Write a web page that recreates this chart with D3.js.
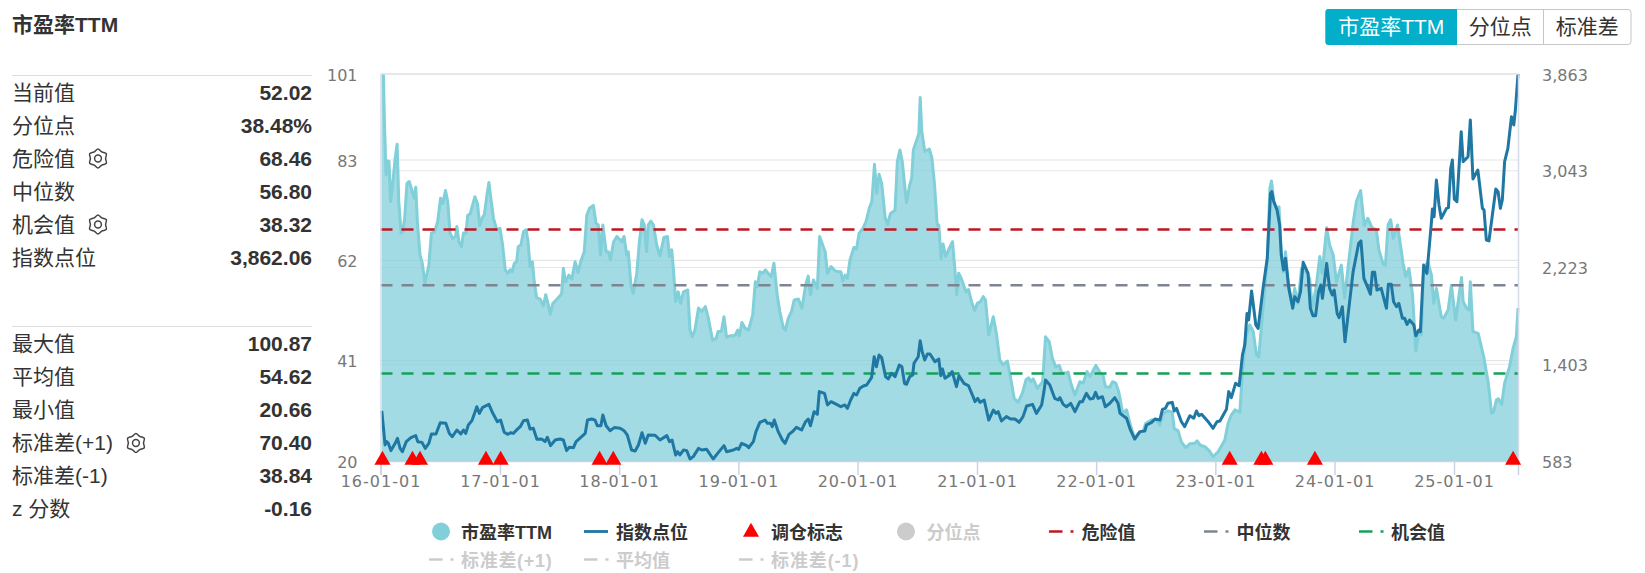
<!DOCTYPE html>
<html>
<head>
<meta charset="utf-8">
<title>市盈率TTM</title>
<script src="https://cdn.jsdelivr.net/npm/d3@7"></script>
<style>
html, body { margin: 0; padding: 0; background: #fff; }
svg { display: block; font-family: "Liberation Sans", "Noto Sans CJK SC", sans-serif; }
.axis text { font-family: "DejaVu Sans", sans-serif; font-size: 16px; fill: #777; }
.axis.x-axis text { letter-spacing: 1px; }
.axis.left-axis text { font-size: 16px; }
</style>
</head>
<body>
<svg id="chart" width="1645" height="573"></svg>
<script>
// [days since 2016-01-01, value]
const peSeries = [[4,100.87],[9,100.8],[12,91],[17,79.9],[21,82.8],[26,82.7],[31,74.3],[38,78.5],[45,83.4],[51,86.3],[56,74.3],[63,67.7],[68,68],[74,70.8],[81,78.1],[88,78.5],[96,76.7],[103,75],[108,77.3],[113,70.1],[121,63.1],[128,61.4],[136,57.2],[148,61],[156,67.7],[166,68],[175,70.1],[184,75],[191,73.9],[199,76.6],[206,74.3],[213,67.7],[221,66.6],[230,67],[234,69.1],[240,65.9],[248,64.9],[254,67.7],[262,67.7],[267,71.4],[275,71.8],[289,75.3],[297,73.9],[304,69.3],[313,71.1],[318,71.5],[326,75.7],[332,78.3],[338,75],[346,70.8],[356,68.4],[366,68.7],[374,65.2],[382,60],[390,59.3],[397,60],[403,59.6],[410,61.4],[417,61.7],[422,64.9],[430,65.2],[438,68],[446,68.4],[452,65.9],[458,60.7],[465,61.7],[471,57.5],[478,54.2],[489,53.9],[499,52.5],[506,54.8],[514,52.7],[520,50.7],[528,53],[538,53.7],[550,54.6],[555,55.1],[560,60.3],[567,57.5],[577,58.9],[586,58.1],[596,61.7],[605,59.5],[613,61.7],[624,63.8],[632,71.5],[640,72.9],[652,73.5],[660,69.8],[667,69.4],[674,63.1],[681,69.4],[691,63.8],[698,63.8],[704,62.1],[714,65.9],[724,67],[739,65.9],[746,67],[754,63.1],[759,63.8],[767,56.8],[774,55.1],[785,59.3],[793,65.9],[801,70.5],[808,69.4],[815,63.8],[820,69.4],[828,70.2],[836,69.4],[846,65.2],[856,62.9],[868,66.8],[879,67],[885,62.8],[892,64.2],[897,60.3],[904,53.4],[912,55.4],[919,53],[928,55.4],[941,55.8],[948,47.4],[955,46],[963,47.4],[974,52],[984,51.3],[995,52.3],[1004,49.9],[1017,45.3],[1028,45.7],[1034,47.1],[1044,47.1],[1052,50.2],[1060,45.9],[1071,46.2],[1081,46.2],[1087,46.4],[1094,47.4],[1099,46.2],[1107,49],[1117,47.8],[1127,47.4],[1140,50.6],[1148,57.5],[1154,56.5],[1162,59.6],[1170,59.3],[1179,60],[1187,59.3],[1197,58.6],[1205,61.4],[1215,54.8],[1223,51.3],[1234,47.8],[1240,47.4],[1249,49.9],[1259,51.3],[1267,53.7],[1280,53.9],[1291,52],[1302,56.8],[1310,58.7],[1317,54.8],[1326,57.9],[1338,56.1],[1345,67],[1356,64.9],[1362,63.8],[1369,59.3],[1380,60.7],[1392,59.8],[1404,59.6],[1410,59.6],[1416,57.7],[1423,58.9],[1430,58.2],[1438,62.1],[1450,64.7],[1458,64.4],[1466,67.7],[1477,68.6],[1487,70.1],[1497,72.9],[1505,74.3],[1513,82.1],[1520,76],[1527,80],[1535,78.1],[1546,70.8],[1553,69.5],[1562,71.8],[1576,72.5],[1583,82.7],[1591,85.1],[1598,82.7],[1611,74.1],[1621,77.8],[1627,79.2],[1632,85.1],[1644,87.5],[1649,88.6],[1653,96.1],[1658,88.9],[1667,84.8],[1681,85.3],[1689,83.4],[1697,77.8],[1705,69.4],[1710,69.4],[1717,62.4],[1723,65.4],[1731,62.8],[1742,64.5],[1752,65.9],[1759,60.3],[1765,54.8],[1771,59.3],[1779,58.2],[1793,55.4],[1801,55.9],[1810,53.4],[1820,51.5],[1828,53],[1838,53.4],[1846,54.4],[1853,53.7],[1863,46.4],[1877,50.2],[1887,46.4],[1897,41.1],[1907,40.1],[1920,40.9],[1931,37],[1941,33.1],[1953,32.3],[1966,34.2],[1977,37],[1985,37.4],[1992,36.6],[1999,37.2],[2012,35.2],[2028,36.6],[2037,46],[2048,45],[2058,41.5],[2068,39.7],[2079,40],[2087,38.4],[2101,38.4],[2106,38.6],[2116,35.9],[2127,33.8],[2142,36.6],[2152,36.3],[2164,38.7],[2173,37.7],[2191,40],[2205,38.4],[2213,38],[2220,35.6],[2234,35.4],[2242,36.6],[2252,36.3],[2261,34.5],[2265,33.1],[2273,30],[2285,30.7],[2297,27.5],[2310,24.7],[2321,25.8],[2336,26.3],[2344,27.9],[2361,28.6],[2377,28.6],[2387,27.5],[2397,30],[2412,30.5],[2425,30.2],[2431,26.8],[2443,26.3],[2453,24],[2466,22.8],[2479,23.6],[2494,23.7],[2501,24.2],[2511,23.3],[2525,23],[2540,22],[2550,20.9],[2566,22],[2586,24.4],[2596,27.9],[2606,29.6],[2617,30.7],[2632,30.2],[2640,38.7],[2650,45.7],[2662,48.5],[2673,47.1],[2683,42.2],[2690,41.8],[2703,52],[2716,61.7],[2724,77.1],[2729,78.6],[2736,74.3],[2744,72.9],[2752,73.2],[2759,63.1],[2765,59.6],[2772,63.8],[2780,57.5],[2793,52.7],[2800,56.1],[2810,53],[2821,60.3],[2831,60],[2846,58.2],[2854,52],[2865,56.1],[2877,62.8],[2884,59.3],[2898,68.8],[2907,65.2],[2918,63.1],[2928,57.5],[2943,61],[2953,54.1],[2969,63.8],[2979,69.8],[2989,74.3],[3002,76.6],[3013,69.3],[3024,70.8],[3037,68.8],[3050,68.4],[3058,64.2],[3071,61.2],[3078,61],[3086,69.4],[3094,70.5],[3102,66.6],[3115,69.4],[3132,61.4],[3140,58.6],[3150,60.3],[3161,54.8],[3171,43],[3180,47.1],[3188,46.4],[3195,60.3],[3208,61.7],[3219,58.9],[3226,53],[3234,56.1],[3249,50.2],[3256,49.9],[3270,51.6],[3280,56.8],[3293,49.5],[3311,58.4],[3316,53.4],[3326,52],[3334,51.6],[3338,57.5],[3346,47.1],[3362,46.7],[3379,41.8],[3393,36.3],[3403,30],[3409,30.3],[3418,32.8],[3424,33],[3434,31.9],[3443,36.3],[3458,39.7],[3469,43.6],[3479,46],[3484,52.02]];

const indexSeries = [[4,1007],[14,719],[19,747],[24,733],[32,671],[45,733],[52,775],[60,690],[67,662],[79,747],[93,781],[108,798],[114,747],[127,741],[137,690],[148,733],[156,812],[170,812],[183,908],[200,902],[211,817],[220,789],[234,846],[246,812],[254,846],[261,817],[269,888],[280,925],[295,1043],[303,987],[313,1038],[332,1063],[344,987],[358,916],[368,930],[379,826],[389,809],[399,823],[407,817],[417,846],[428,874],[438,925],[450,930],[458,854],[468,860],[479,767],[494,769],[504,747],[511,784],[521,713],[535,761],[550,769],[560,761],[570,671],[578,699],[591,696],[599,747],[616,789],[627,817],[634,930],[647,939],[657,930],[664,882],[675,882],[681,973],[691,882],[703,840],[716,866],[734,860],[746,840],[756,803],[769,676],[780,668],[790,719],[801,823],[811,733],[820,803],[841,801],[856,761],[877,798],[885,747],[893,761],[904,634],[910,662],[917,634],[928,676],[938,671],[948,600],[958,620],[974,690],[984,676],[999,682],[1019,600],[1035,656],[1052,713],[1060,662],[1081,676],[1091,690],[1097,682],[1106,733],[1122,713],[1128,696],[1142,747],[1150,832],[1162,911],[1178,930],[1185,902],[1195,902],[1200,874],[1206,930],[1218,832],[1231,761],[1239,733],[1251,809],[1264,837],[1274,868],[1290,846],[1302,916],[1310,939],[1317,882],[1328,1001],[1338,979],[1344,1171],[1360,1156],[1369,1058],[1380,1086],[1397,1063],[1410,1043],[1422,1058],[1430,1029],[1440,1100],[1450,1156],[1458,1142],[1468,1199],[1479,1219],[1489,1227],[1504,1289],[1512,1467],[1519,1382],[1527,1481],[1535,1459],[1547,1298],[1555,1278],[1565,1326],[1576,1298],[1589,1397],[1597,1382],[1605,1241],[1611,1233],[1621,1298],[1630,1312],[1634,1411],[1647,1467],[1653,1603],[1659,1510],[1667,1439],[1675,1490],[1683,1490],[1698,1425],[1710,1447],[1716,1306],[1721,1363],[1729,1284],[1744,1312],[1751,1340],[1764,1213],[1772,1306],[1787,1241],[1801,1221],[1815,1128],[1821,1086],[1829,1114],[1836,1080],[1849,1100],[1863,930],[1877,1015],[1885,987],[1892,1001],[1902,922],[1917,959],[1930,939],[1943,939],[1956,911],[1968,959],[1979,1049],[1997,1063],[2009,987],[2025,1058],[2032,1171],[2037,1269],[2050,1227],[2065,1114],[2076,1100],[2081,1120],[2091,1063],[2101,1043],[2114,1072],[2127,1001],[2142,1086],[2150,1086],[2162,1156],[2173,1108],[2183,1114],[2190,1165],[2198,1114],[2211,1128],[2220,1043],[2234,1072],[2249,1120],[2259,1072],[2265,987],[2285,945],[2297,846],[2310,769],[2326,832],[2341,837],[2346,888],[2361,908],[2372,939],[2387,930],[2395,1021],[2404,1029],[2412,1072],[2425,1080],[2431,1007],[2438,1029],[2453,916],[2463,874],[2479,967],[2491,945],[2499,1007],[2507,967],[2515,979],[2535,916],[2550,860],[2562,916],[2571,922],[2591,1021],[2598,1171],[2606,1120],[2619,1241],[2630,1221],[2640,1481],[2647,1566],[2654,1834],[2659,1778],[2668,2024],[2681,1736],[2688,1707],[2703,2046],[2716,2301],[2726,2851],[2730,2866],[2736,2781],[2746,2710],[2754,2583],[2759,2329],[2766,2202],[2772,2301],[2782,2046],[2794,1877],[2800,1976],[2810,1933],[2818,2018],[2826,2267],[2841,2173],[2848,1877],[2856,1815],[2864,1815],[2873,2018],[2880,2075],[2885,1962],[2898,2258],[2907,2046],[2915,1990],[2921,2032],[2930,1834],[2936,1798],[2946,1891],[2954,1594],[2979,2188],[2996,2428],[3003,2448],[3012,2131],[3025,2046],[3032,1996],[3038,2182],[3045,2182],[3052,2032],[3065,2046],[3081,1877],[3087,2080],[3096,2080],[3103,1933],[3112,1891],[3119,1919],[3130,1792],[3137,1792],[3144,1741],[3152,1778],[3165,1736],[3171,1645],[3180,1693],[3185,1679],[3195,2244],[3205,2173],[3219,2611],[3222,2719],[3227,2654],[3234,2964],[3242,2753],[3249,2640],[3265,2724],[3271,2730],[3278,3063],[3283,3134],[3289,2803],[3297,2781],[3310,3374],[3316,3120],[3331,3162],[3338,3473],[3346,2973],[3361,3049],[3375,2724],[3380,2710],[3387,2456],[3395,2448],[3416,2888],[3423,2866],[3430,2724],[3436,2795],[3443,3120],[3453,3233],[3464,3501],[3471,3431],[3476,3558],[3484,3862]];

const rebalanceDays = [6, 98, 121, 323, 368, 671, 713, 2601, 2698, 2710, 2862, 3469];

const dangerValue = 68.46;
const medianValue = 56.80;
const chanceValue = 38.32;

const leftTicks = [20, 41, 62, 83, 101];
const rightTicks = [583, 1403, 2223, 3043, 3863];
const xTickYears = [2016, 2017, 2018, 2019, 2020, 2021, 2022, 2023, 2024, 2025];

const statsTop = [["当前值", "52.02"], ["分位点", "38.48%"], ["危险值", "68.46", 1], ["中位数", "56.80"], ["机会值", "38.32", 1], ["指数点位", "3,862.06"]];
const statsBottom = [["最大值", "100.87"], ["平均值", "54.62"], ["最小值", "20.66"], ["标准差(+1)", "70.40", 1], ["标准差(-1)", "38.84"], ["z 分数", "-0.16"]];
const buttonLabels = ["市盈率TTM", "分位点", "标准差"];

const PE_COLOR = "#81cfd9", INDEX_COLOR = "#1f77a3";
const DANGER_COLOR = "#bf1722", MEDIAN_COLOR = "#7f8491", CHANCE_COLOR = "#16a05a";
const OFF_COLOR = "#ccc", TEXT_COLOR = "#333";

const svg = d3.select("#chart");
const start = Date.UTC(2016, 0, 1);
const dayDate = d => d3.utcDay.offset(new Date(start), d);

const plotLeft = 380.5, plotRight = 1518, plotTop = 74, plotBottom = 461;
const x = d3.scaleUtc().domain([dayDate(0), dayDate(3484)]).range([plotLeft, plotRight]);
const y = d3.scaleLinear().domain([20, 101]).range([plotBottom, plotTop]);
const yIndex = d3.scaleLinear().domain([583, 3863]).range([plotBottom, plotTop]);

// grid, one set for each y axis
const grid = svg.append("g").attr("stroke", "#e6e6e6").attr("stroke-width", 1.2);
leftTicks.forEach(t => grid.append("line").attr("x1", plotLeft).attr("x2", plotRight).attr("y1", y(t)).attr("y2", y(t)));
rightTicks.forEach(t => grid.append("line").attr("x1", plotLeft).attr("x2", plotRight).attr("y1", yIndex(t)).attr("y2", yIndex(t)));

// pe area + line
svg.append("path").datum(peSeries)
    .attr("fill", PE_COLOR).attr("fill-opacity", 0.74)
    .attr("d", d3.area().x(d => x(dayDate(d[0]))).y0(plotBottom).y1(d => y(d[1])));
svg.append("path").datum(peSeries)
    .attr("fill", "none").attr("stroke", PE_COLOR).attr("stroke-width", 3).attr("stroke-linejoin", "round")
    .attr("d", d3.line().x(d => x(dayDate(d[0]))).y(d => y(d[1])));

// reference lines
[[dangerValue, DANGER_COLOR], [medianValue, MEDIAN_COLOR], [chanceValue, CHANCE_COLOR]].forEach(r => {
    svg.append("line").attr("x1", plotLeft).attr("x2", plotRight).attr("y1", y(r[0])).attr("y2", y(r[0]))
        .attr("stroke", r[1]).attr("stroke-width", 2.6).attr("stroke-dasharray", "12 9");
});

svg.append("path").datum(indexSeries)
    .attr("fill", "none").attr("stroke", INDEX_COLOR).attr("stroke-width", 3).attr("stroke-linejoin", "round")
    .attr("d", d3.line().x(d => x(dayDate(d[0]))).y(d => yIndex(d[1])));

// axes
const xAxis = svg.append("g").attr("class", "axis x-axis").attr("transform", `translate(0,${plotBottom})`)
    .call(d3.axisBottom(x).tickValues(xTickYears.map(v => new Date(Date.UTC(v, 0, 1)))).tickFormat(d3.utcFormat("%y-%m-%d")).tickSize(14).tickPadding(1));
xAxis.selectAll("line, path").attr("stroke", "#ccd3e6").attr("stroke-width", 1.5);

const yAxis = svg.append("g").attr("class", "axis left-axis").attr("transform", `translate(${plotLeft},1)`)
    .call(d3.axisLeft(y).tickValues(leftTicks).tickFormat(d3.format("d")).tickSize(0).tickPadding(23));
yAxis.selectAll("path").attr("stroke", "#d5dbe8").attr("stroke-width", 1.5).attr("transform", "translate(0,-1)");

const yAxisR = svg.append("g").attr("class", "axis").attr("transform", `translate(${plotRight},1)`)
    .call(d3.axisRight(yIndex).tickValues(rightTicks).tickFormat(d3.format(",d")).tickSize(0).tickPadding(24));
yAxisR.selectAll("path").attr("stroke", "#d5dbe8").attr("stroke-width", 1.5).attr("transform", "translate(0,-1)");

svg.append("line").attr("x1", plotLeft).attr("x2", plotRight).attr("y1", plotTop).attr("y2", plotTop).attr("stroke", "#e6e6e6").attr("stroke-width", 1.5);

// rebalance triangles
svg.append("g").selectAll("path").data(rebalanceDays).join("path")
    .attr("d", d3.symbol(d3.symbolTriangle, 112))
    .attr("fill", "#f00")
    .attr("transform", d => `translate(${x(dayDate(d))},${plotBottom - 1})`);

// title
svg.append("text").attr("x", 12).attr("y", 25).attr("dy", "0.35em")
    .attr("font-size", 21).attr("font-weight", 700).attr("fill", TEXT_COLOR).text("市盈率TTM");

// buttons
const btnEdges = [1325.5, 1457, 1543.5, 1631];
svg.append("rect").attr("x", btnEdges[0]).attr("y", 9.5).attr("width", btnEdges[3] - btnEdges[0]).attr("height", 35)
    .attr("rx", 3).attr("fill", "#fff").attr("stroke", "#c6c6c6");
svg.append("path").attr("fill", "#02aec9")
    .attr("d", `M${btnEdges[1]},9 H${btnEdges[0] + 3} Q${btnEdges[0]},9 ${btnEdges[0]},12 V42 Q${btnEdges[0]},45 ${btnEdges[0] + 3},45 H${btnEdges[1]} Z`);
svg.append("line").attr("x1", btnEdges[2]).attr("x2", btnEdges[2]).attr("y1", 9.5).attr("y2", 44.5).attr("stroke", "#c6c6c6");
buttonLabels.forEach((b, i) => {
    svg.append("text").attr("x", (btnEdges[i] + btnEdges[i + 1]) / 2).attr("y", 26.5).attr("dy", "0.35em")
        .attr("text-anchor", "middle").attr("font-size", 21).attr("fill", i == 0 ? "#fff" : TEXT_COLOR).text(b);
});

// stat panel
function gear(cx, cy) {
    const g = svg.append("g").attr("transform", `translate(${cx},${cy})`).attr("fill", "none").attr("stroke", "#444").attr("stroke-width", 1.5);
    const pts = d3.range(12).map(i => [i * Math.PI / 6, i % 2 ? 7.6 : 9.6]);
    g.append("path").attr("d", d3.lineRadial().curve(d3.curveCardinalClosed)(pts));
    g.append("circle").attr("r", 3.4);
}

function drawStats(rows, lineY, firstY) {
    svg.append("line").attr("x1", 12).attr("x2", 312).attr("y1", lineY).attr("y2", lineY).attr("stroke", "#ddd").attr("stroke-width", 1.2);
    rows.forEach((r, i) => {
        const yy = firstY + i * 33;
        const label = svg.append("text").attr("x", 12).attr("y", yy).attr("dy", "0.35em")
            .attr("font-size", 21).attr("fill", TEXT_COLOR).text(r[0]);
        svg.append("text").attr("x", 312).attr("y", yy).attr("dy", "0.35em").attr("text-anchor", "end")
            .attr("font-size", 21).attr("font-weight", 700).attr("fill", TEXT_COLOR).text(r[1]);
        if (r[2]) gear(12 + label.node().getComputedTextLength() + 23, yy);
    });
}
drawStats(statsTop, 75.5, 92.5);
drawStats(statsBottom, 326.5, 344);

// legend
const LEG_Y = 532.5, LEG_Y2 = 560.5;
function legText(px, py, label, color, spacing) {
    svg.append("text").attr("x", px).attr("y", py).attr("dy", "0.35em").attr("letter-spacing", spacing || 0)
        .attr("font-size", 18).attr("font-weight", 700).attr("fill", color).text(label);
}
function legDash(px, py, color) {
    svg.append("line").attr("x1", px).attr("x2", px + 13.5).attr("y1", py).attr("y2", py).attr("stroke", color).attr("stroke-width", 2.5);
    svg.append("line").attr("x1", px + 21.5).attr("x2", px + 24.5).attr("y1", py).attr("y2", py).attr("stroke", color).attr("stroke-width", 2.5);
}
svg.append("circle").attr("cx", 441).attr("cy", LEG_Y - 1).attr("r", 9).attr("fill", PE_COLOR);
legText(461, LEG_Y, "市盈率TTM", TEXT_COLOR);
svg.append("line").attr("x1", 584).attr("x2", 608).attr("y1", LEG_Y - 1).attr("y2", LEG_Y - 1).attr("stroke", INDEX_COLOR).attr("stroke-width", 2.8);
legText(616, LEG_Y, "指数点位", TEXT_COLOR);
svg.append("path").attr("d", d3.symbol(d3.symbolTriangle, 112)).attr("fill", "#f00").attr("transform", `translate(751,${LEG_Y - 0.5})`);
legText(771, LEG_Y, "调仓标志", TEXT_COLOR);
svg.append("circle").attr("cx", 906).attr("cy", LEG_Y - 1).attr("r", 9).attr("fill", OFF_COLOR);
legText(926.5, LEG_Y, "分位点", OFF_COLOR);
legDash(1049, LEG_Y - 1, DANGER_COLOR);
legText(1081.5, LEG_Y, "危险值", TEXT_COLOR);
legDash(1204, LEG_Y - 1, MEDIAN_COLOR);
legText(1236.5, LEG_Y, "中位数", TEXT_COLOR);
legDash(1359, LEG_Y - 1, CHANCE_COLOR);
legText(1391, LEG_Y, "机会值", TEXT_COLOR);
legDash(429, LEG_Y2 - 1, OFF_COLOR);
legText(461, LEG_Y2, "标准差(+1)", OFF_COLOR, 0.7);
legDash(584, LEG_Y2 - 1, OFF_COLOR);
legText(616, LEG_Y2, "平均值", OFF_COLOR);
legDash(739, LEG_Y2 - 1, OFF_COLOR);
legText(771, LEG_Y2, "标准差(-1)", OFF_COLOR, 0.9);
</script>
</body>
</html>
